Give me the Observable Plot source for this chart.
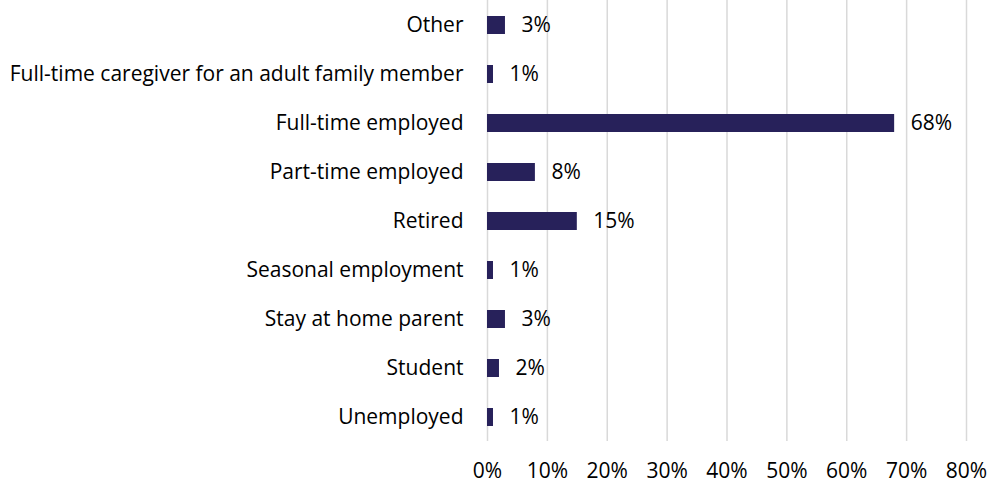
<!DOCTYPE html>
<html><head><meta charset="utf-8">
<script src="https://cdn.jsdelivr.net/npm/d3@7"></script>
<script src="https://cdn.jsdelivr.net/npm/@observablehq/plot@0.6"></script>
<style>
body{margin:0;background:#fff;}
#chart svg{display:block;}
</style>
</head><body><div id="chart"></div>
<script>
const categories = ["Other","Full-time caregiver for an adult family member","Full-time employed","Part-time employed","Retired","Seasonal employment","Stay at home parent","Student","Unemployed"];
const values = [3,1,68,8,15,1,3,2,1];
const xTicks = [0,10,20,30,40,50,60,70,80];

const data = categories.map((c,i)=>({cat:c, v:values[i]}));
const font = "'Open Sans', sans-serif";

const chart = Plot.plot({
  width: 990,
  height: 483,
  marginTop: 0,
  marginBottom: 42,
  marginLeft: 487,
  marginRight: 24,
  style: {fontFamily: font, fontSize: "21px", color: "#000", background: "#fff"},
  x: {domain: [0,80], ticks: xTicks, tickFormat: d => d + "%", label: null},
  y: {domain: categories, paddingInner: 0.64, paddingOuter: 0.32, label: null},
  marks: [
    Plot.gridX(xTicks, {stroke: "#d9d9d9", strokeOpacity: 1, strokeWidth: 1.5}),
    Plot.barX(data, {x: "v", y: "cat", fill: "#27215a"}),
    Plot.text(data, {x: "v", y: "cat", text: d => d.v + "%", textAnchor: "start", dx: 16, fontSize: 21, fill: "#000"}),
    Plot.axisX(xTicks, {tickSize: 0, tickPadding: 22, tickFormat: d => d + "%", fontSize: 21, label: null}),
    Plot.axisY({tickSize: 0, tickPadding: 24, fontSize: 21, label: null})
  ]
});
document.getElementById("chart").appendChild(chart);
</script>
</body></html>
